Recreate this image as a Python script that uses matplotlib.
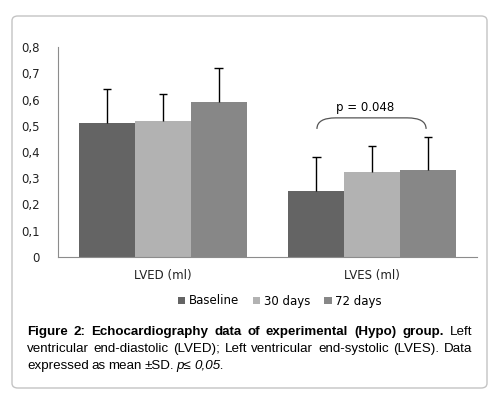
import matplotlib
matplotlib.use('Agg')
import matplotlib.pyplot as plt
import numpy as np
from matplotlib.patches import FancyBboxPatch, PathPatch
from matplotlib.path import Path

categories = ['LVED (ml)', 'LVES (ml)']
groups = ['Baseline', '30 days', '72 days']
means = {'Baseline': [0.51, 0.25], '30 days': [0.52, 0.325], '72 days': [0.59, 0.33]}
sds = {'Baseline': [0.13, 0.13], '30 days': [0.10, 0.097], '72 days': [0.13, 0.127]}
colors = ['#646464', '#b2b2b2', '#878787']
yticks = [0, 0.1, 0.2, 0.3, 0.4, 0.5, 0.6, 0.7, 0.8]
ytick_labels = ['0', '0,1', '0,2', '0,3', '0,4', '0,5', '0,6', '0,7', '0,8']

W, H = 490, 396
fig = plt.figure(figsize=(W / 100, H / 100), dpi=100)
fig.patch.set_facecolor('white')

# rounded frame around chart + caption
frame = FancyBboxPatch((12 / W, 1 - 388 / H), 475 / W, 372 / H,
                       boxstyle='round,pad=0,rounding_size=0.012',
                       transform=fig.transFigure, fc='none', ec='#c4c4c4', lw=1.0)
fig.patches.append(frame)

ax = fig.add_axes([58 / W, 1 - 257 / H, 419 / W, 210 / H])
x = np.arange(len(categories))
bw = 0.267
for i, g in enumerate(groups):
    xs = x + (i - 1) * bw
    tops = np.array(means[g]) + np.array(sds[g])
    ax.bar(xs, means[g], bw, color=colors[i], label=g, zorder=2)
    ax.vlines(xs, means[g], tops, color='black', lw=1, zorder=3)
    ax.hlines(tops, xs - 0.02, xs + 0.02, color='black', lw=1, zorder=3)

ax.set_xlim(-0.5, 1.5)
ax.set_ylim(0, 0.8)
ax.set_yticks(yticks)
ax.set_yticklabels(ytick_labels)
ax.set_xticks(x)
ax.set_xticklabels(categories)
ax.tick_params(axis='both', length=0, labelsize=8.5, colors='#222222')
ax.tick_params(axis='y', pad=13)
ax.tick_params(axis='x', pad=9)
for s in ['top', 'right']:
    ax.spines[s].set_visible(False)
for s in ['left', 'bottom']:
    ax.spines[s].set_color('#8c8c8c')

# significance bracket
x1, x2 = 0.736, 1.257
yl, yt = 0.488, 0.53
r = 0.09
verts = [(x1, yl), (x1, yt), (x1 + r, yt), (x2 - r, yt), (x2, yt), (x2, yl)]
codes = [Path.MOVETO, Path.CURVE3, Path.CURVE3, Path.LINETO, Path.CURVE3, Path.CURVE3]
ax.add_patch(PathPatch(Path(verts, codes), fc='none', ec='#555555', lw=0.9))
ax.text((x1 + x2) / 2 - 0.03, 0.545, 'p = 0.048', ha='center', va='bottom', fontsize=8.5)

fig.legend(loc='center', bbox_to_anchor=(280 / W, 1 - 301 / H), ncol=3, frameon=False,
           fontsize=8.5, handlelength=0.6, handleheight=0.6, handletextpad=0.3,
           columnspacing=1.2)

# justified caption
cap_lines = [
    [('Figure', 'bold', 'normal'), ('2:', 'bold', 'normal'), ('Echocardiography', 'bold', 'normal'),
     ('data', 'bold', 'normal'), ('of', 'bold', 'normal'), ('experimental', 'bold', 'normal'),
     ('(Hypo)', 'bold', 'normal'), ('group.', 'bold', 'normal'), ('Left', 'normal', 'normal')],
    [(w, 'normal', 'normal') for w in
     'ventricular end-diastolic (LVED); Left ventricular end-systolic (LVES). Data'.split()],
    [(w, 'normal', 'normal') for w in 'expressed as mean ±SD.'.split()] +
    [('p≤', 'normal', 'italic'), ('0,05.', 'normal', 'italic')],
]
left, right = 27, 472
ys = [332, 349, 366]
renderer = fig.canvas.get_renderer()
for li, line in enumerate(cap_lines):
    texts = []
    for w, wt, st in line:
        t = fig.text(0, 0, w, fontsize=9.6, fontweight=wt, fontstyle=st,
                     family='Liberation Sans', va='center', ha='left')
        texts.append(t)
    widths = [t.get_window_extent(renderer).width for t in texts]
    if li < len(cap_lines) - 1:
        gap = (right - left - sum(widths)) / (len(texts) - 1)
    else:
        gap = 2.7
    xp = left
    for t, wd in zip(texts, widths):
        t.set_position((xp / W, 1 - ys[li] / H))
        xp += wd + gap

fig.savefig('out.png', dpi=100)
